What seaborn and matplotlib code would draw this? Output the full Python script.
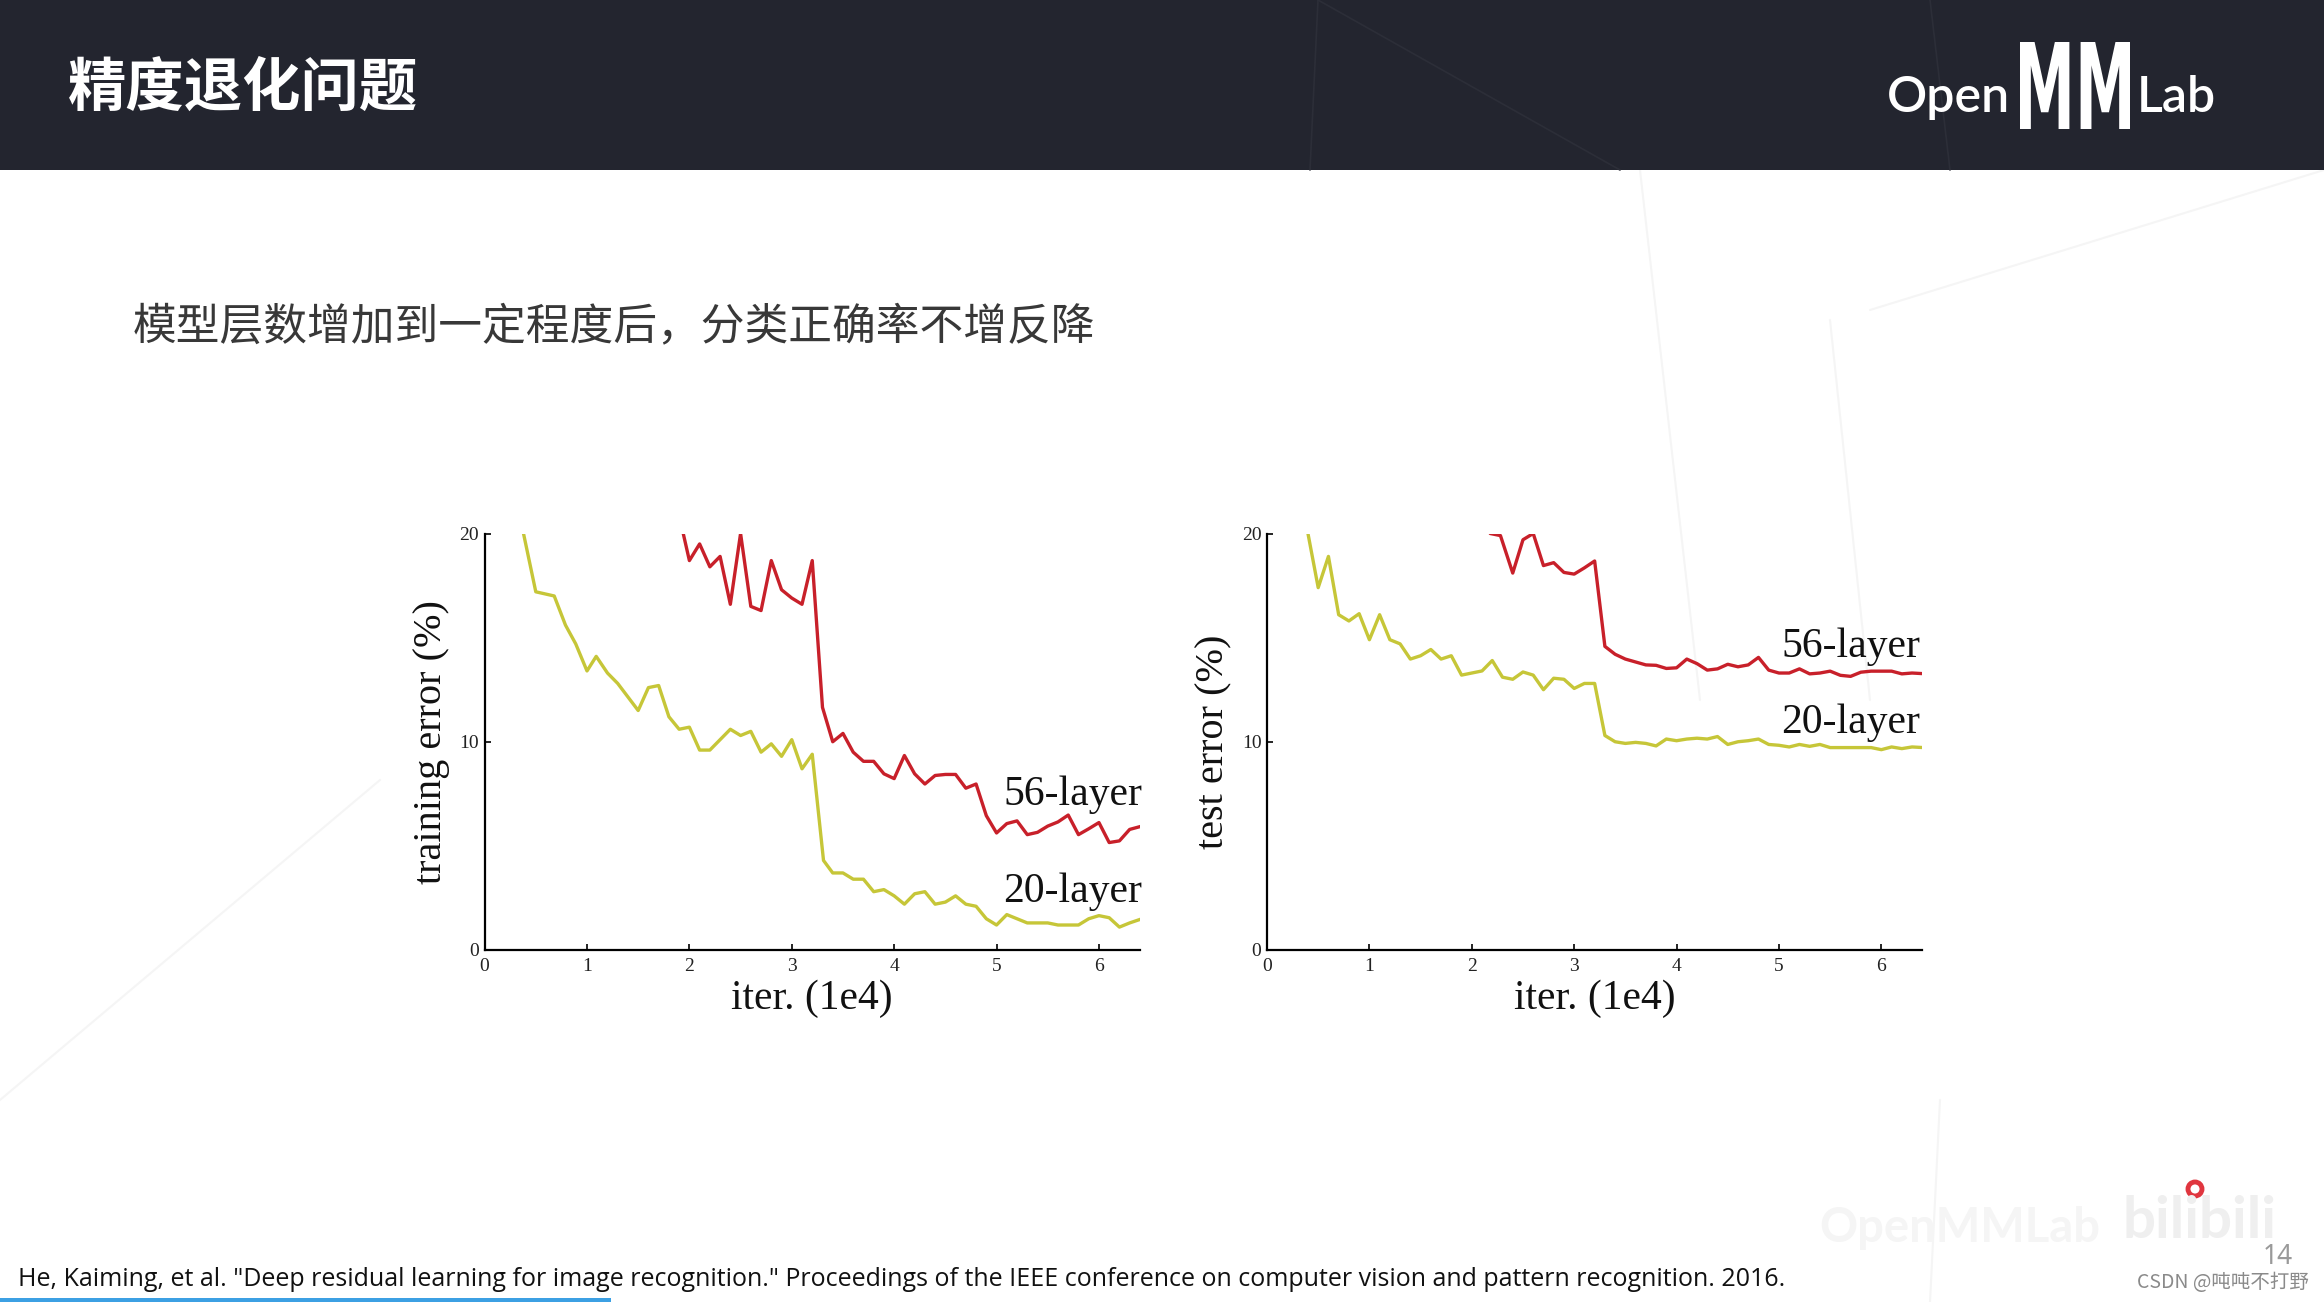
import matplotlib
matplotlib.use("Agg")
import matplotlib.pyplot as plt
import seaborn as sns
import pandas as pd
from matplotlib.patches import Rectangle, Ellipse, PathPatch
from matplotlib.lines import Line2D
from matplotlib.textpath import TextPath
from matplotlib.font_manager import FontProperties
from matplotlib.transforms import Affine2D, IdentityTransform

# ---------------- data ----------------
train20_x = [0.38, 0.5, 0.68, 0.79, 0.89, 1.0, 1.09, 1.2, 1.3, 1.5, 1.6, 1.7, 1.8, 1.9,
             2.0, 2.1, 2.2, 2.3, 2.4, 2.5, 2.6, 2.7, 2.8, 2.9, 3.0, 3.1, 3.2, 3.31,
             3.4, 3.5, 3.6, 3.7, 3.8, 3.9, 4.0, 4.1, 4.2, 4.3, 4.4, 4.5, 4.6, 4.7, 4.8,
             4.9, 5.0, 5.1, 5.2, 5.3, 5.4, 5.5, 5.6, 5.7, 5.8, 5.9, 6.0, 6.1, 6.2, 6.3, 6.42]
train20_y = [20, 17.2, 17.0, 15.6, 14.7, 13.4, 14.1, 13.3, 12.8, 11.5, 12.6, 12.7, 11.2, 10.6,
             10.7, 9.6, 9.6, 10.1, 10.6, 10.3, 10.5, 9.5, 9.9, 9.3, 10.1, 8.7, 9.4, 4.3,
             3.7, 3.7, 3.4, 3.4, 2.8, 2.9, 2.6, 2.2, 2.7, 2.8, 2.2, 2.3, 2.6, 2.2, 2.1,
             1.5, 1.2, 1.7, 1.5, 1.3, 1.3, 1.3, 1.2, 1.2, 1.2, 1.5, 1.65, 1.55, 1.1, 1.3, 1.5]

train56_x = [1.94, 2.0, 2.1, 2.2, 2.3, 2.4, 2.5, 2.6, 2.7, 2.8, 2.9, 3.0, 3.1, 3.2,
             3.3, 3.4, 3.5, 3.6, 3.7, 3.8, 3.9, 4.0, 4.1, 4.2,
             4.3, 4.4, 4.5, 4.6, 4.7, 4.8, 4.9, 5.0, 5.1, 5.2,
             5.3, 5.4, 5.5, 5.6, 5.7, 5.8, 5.9, 6.0, 6.1, 6.2, 6.3, 6.42]
train56_y = [20, 18.7, 19.5, 18.4, 18.9, 16.6, 20.0, 16.5, 16.3, 18.7, 17.3, 16.9, 16.6, 18.7,
             11.65, 10.0, 10.4, 9.5, 9.06, 9.06, 8.46, 8.23, 9.34, 8.46,
             7.97, 8.38, 8.43, 8.43, 7.77, 7.97, 6.45, 5.62, 6.07, 6.2,
             5.54, 5.65, 5.95, 6.15, 6.48, 5.54, 5.82, 6.12, 5.16, 5.24, 5.79, 5.95]

test20_x = [0.4, 0.5, 0.6, 0.7, 0.8, 0.9, 1.0, 1.1, 1.2, 1.3,
            1.4, 1.5, 1.6, 1.7, 1.8, 1.9, 2.0, 2.1, 2.2, 2.3,
            2.4, 2.5, 2.6, 2.7, 2.8, 2.9, 3.0, 3.1, 3.2, 3.3,
            3.4, 3.5, 3.6, 3.7, 3.8, 3.9, 4.0, 4.1, 4.2, 4.3,
            4.4, 4.5, 4.6, 4.7, 4.8, 4.9, 5.0, 5.1, 5.2, 5.3,
            5.4, 5.5, 5.6, 5.7, 5.8, 5.9, 6.0, 6.1, 6.2, 6.3, 6.41]
test20_y = [20, 17.4, 18.9, 16.1, 15.8, 16.15, 14.9, 16.1, 14.9, 14.7,
            13.97, 14.13, 14.43, 13.97, 14.13, 13.2, 13.3, 13.4, 13.9, 13.1,
            13.0, 13.35, 13.2, 12.5, 13.05, 13.0, 12.56, 12.8, 12.8, 10.3,
            10.0, 9.92, 9.97, 9.92, 9.8, 10.13, 10.05, 10.13, 10.17, 10.13,
            10.25, 9.87, 10.0, 10.05, 10.13, 9.87, 9.83, 9.75, 9.87, 9.78,
            9.87, 9.72, 9.72, 9.72, 9.72, 9.72, 9.62, 9.75, 9.67, 9.75, 9.72]

test56_x = [2.18, 2.28, 2.4, 2.5, 2.6, 2.7, 2.8, 2.9, 3.0, 3.1, 3.2,
            3.3, 3.4, 3.5, 3.6, 3.7, 3.8, 3.9, 4.0, 4.1, 4.2,
            4.3, 4.4, 4.5, 4.6, 4.7, 4.8, 4.9, 5.0, 5.1, 5.2,
            5.3, 5.4, 5.5, 5.6, 5.7, 5.8, 5.9, 6.0, 6.1, 6.2, 6.3, 6.41]
test56_y = [20, 19.9, 18.1, 19.7, 20.0, 18.46, 18.6, 18.13, 18.05, 18.35, 18.68,
            14.58, 14.2, 13.97, 13.83, 13.69, 13.67, 13.52, 13.55, 13.97, 13.75,
            13.44, 13.5, 13.72, 13.6, 13.69, 14.05, 13.44, 13.3, 13.3, 13.5,
            13.26, 13.3, 13.39, 13.19, 13.14, 13.34, 13.39, 13.39, 13.39, 13.26, 13.3, 13.27]

series_names = ["56-layer", "20-layer"]
x_ticks = [0, 1, 2, 3, 4, 5, 6]
y_ticks = [0, 10, 20]
title_text = "精度退化问题"
subtitle_text = "模型层数增加到一定程度后，分类正确率不增反降"
cite_text = ('He, Kaiming, et al. "Deep residual learning for image recognition." '
             'Proceedings of the IEEE conference on computer vision and pattern recognition. 2016.')

RED = "#c8202a"
YEL = "#c6c638"

# ---------------- figure ----------------
sns.set_theme(style="white")
plt.rcParams['font.family'] = ['Liberation Serif', 'DejaVu Sans']

W, H = 2324, 1302
fig = plt.figure(figsize=(W / 100, H / 100), dpi=100)
fig.patch.set_facecolor("white")

def fx(px):
    return px / W

def fy(py):
    return 1 - py / H

# very faint background geometry
for (x0, y0, x1, y1) in [(1640, 170, 1700, 700), (1870, 310, 2324, 170),
                         (1830, 320, 1870, 700), (0, 1100, 380, 780), (1930, 1302, 1940, 1100)]:
    fig.add_artist(Line2D([fx(x0), fx(x1)], [fy(y0), fy(y1)], transform=fig.transFigure,
                          color="#f5f5f5", lw=1.5, zorder=0))

# header band
fig.add_artist(Rectangle((0, fy(170)), 1, 170 / H, transform=fig.transFigure,
                         facecolor="#23252f", edgecolor="none", zorder=0))
for (x0, y0, x1, y1) in [(1310, 170, 1318, 0), (1318, 0, 1620, 170), (1930, 0, 1950, 170)]:
    fig.add_artist(Line2D([fx(x0), fx(x1)], [fy(y0), fy(y1)], transform=fig.transFigure,
                          color="#2c2e38", lw=1.2, zorder=0.5))

fig.text(fx(68), fy(89), title_text, color="white", fontsize=42, fontweight="bold",
         va="center", ha="left", family=["Noto Sans CJK SC", "DejaVu Sans"])

# logo
fig.text(fx(1887), fy(98), "Open", color="white", fontsize=36, fontweight="semibold",
         va="center", ha="left", family=["Lato", "DejaVu Sans"])
fig.text(fx(2137), fy(98), "Lab", color="white", fontsize=36, fontweight="semibold",
         va="center", ha="left", family=["Lato", "DejaVu Sans"])
# tall narrow "MM" fitted into its box (pixel box x 2020-2130, y 42-129 from top)
mm_path = TextPath((0, 0), "MM", size=100, prop=FontProperties(family="DejaVu Sans", weight="bold"))
ext = mm_path.get_extents()
bx0, bx1, by_top, by_bot = 2020, 2130, 42, 129
sx = (bx1 - bx0) / ext.width
sy = (by_bot - by_top) / ext.height
mm_tr = (Affine2D().translate(-ext.x0, -ext.y0).scale(sx, sy)
         .translate(bx0, H - by_bot))
fig.add_artist(PathPatch(mm_tr.transform_path(mm_path), transform=IdentityTransform(),
                         facecolor="white", edgecolor="none", zorder=2))

# subtitle
fig.text(fx(133), fy(326), subtitle_text, color="#383838", fontsize=31.5,
         va="center", ha="left", family=["Noto Sans CJK SC", "DejaVu Sans"])

# ---------------- charts ----------------
def make_df(x56, y56, x20, y20):
    return pd.concat([
        pd.DataFrame({"iter": x56, "err": y56, "model": series_names[0]}),
        pd.DataFrame({"iter": x20, "err": y20, "model": series_names[1]}),
    ], ignore_index=True)

palette = {series_names[0]: RED, series_names[1]: YEL}

def draw(ax, df, ylabel, lab56, lab20):
    sns.lineplot(data=df, x="iter", y="err", hue="model", palette=palette, ax=ax,
                 linewidth=2.4, legend=False, estimator=None, sort=False)
    ax.set_xlim(0, 6.4)
    ax.set_ylim(0, 20)
    ax.set_xticks(x_ticks)
    ax.set_yticks(y_ticks)
    ax.set_xticklabels([str(v) for v in x_ticks])
    ax.set_yticklabels([str(v) for v in y_ticks])
    ax.tick_params(axis="both", direction="in", length=4, width=1.2, color="black",
                   labelsize=14, labelcolor="#222222")
    ax.tick_params(axis="x", pad=6, bottom=True)
    ax.tick_params(axis="y", pad=4, left=True)
    for s in ["top", "right"]:
        ax.spines[s].set_visible(False)
    for s in ["left", "bottom"]:
        ax.spines[s].set_color("black")
        ax.spines[s].set_linewidth(1.6)
    ax.grid(False)
    ax.set_facecolor("none")
    ax.set_xlabel("iter. (1e4)", fontsize=30, color="#111111")
    ax.xaxis.set_label_coords(0.5, -0.071)
    ax.set_ylabel(ylabel, fontsize=29, color="#111111")
    ax.yaxis.set_label_coords(-0.053, 0.5)
    ax.text(lab56[0], lab56[1], series_names[0], ha="right", va="center", fontsize=30, color="#111111")
    ax.text(lab20[0], lab20[1], series_names[1], ha="right", va="center", fontsize=30, color="#111111")

ax_w = fx(655.3)
ax_h = 416.5 / H
ax1 = fig.add_axes([fx(484.6), fy(950), ax_w, ax_h])
ax2 = fig.add_axes([fx(1267), fy(950), ax_w, ax_h])

draw(ax1, make_df(train56_x, train56_y, train20_x, train20_y), "training error (%)",
     (6.42, 7.44), (6.42, 2.81))
draw(ax2, make_df(test56_x, test56_y, test20_x, test20_y), "test error (%)",
     (6.38, 14.55), (6.38, 10.9))

# ---------------- footer ----------------
fig.text(fx(18), fy(1279), cite_text, fontsize=18, color="#111111", va="center", ha="left",
         family=["Open Sans", "DejaVu Sans"])
fig.add_artist(Rectangle((0, 0), fx(611), 4 / H, transform=fig.transFigure,
                         facecolor="#3ca0e3", edgecolor="none"))

# watermark & page info
fig.text(fx(1960), fy(1228), "OpenMMLab", fontsize=34, color="#f5f5f5", va="center", ha="center",
         family=["Lato", "DejaVu Sans"], fontweight="bold")
fig.text(fx(2200), fy(1222), "bilibili", fontsize=42, color="#efefef", va="center", ha="center",
         family=["Lato", "DejaVu Sans"], fontweight="bold")
fig.add_artist(Ellipse((fx(2195), fy(1189)), 14 / W, 14 / H, transform=fig.transFigure,
                       facecolor="none", edgecolor="#e0363f", lw=3.5))
fig.text(fx(2278), fy(1257), "14", fontsize=19, color="#9a9a9a", va="center", ha="center",
         family=["Noto Sans", "DejaVu Sans"])
fig.text(fx(2309), fy(1282), "CSDN @吨吨不打野", fontsize=14, color="#8a8a8a", va="center", ha="right",
         family=["Noto Sans CJK SC", "DejaVu Sans"])

fig.savefig("out.png", dpi=100, facecolor=fig.get_facecolor())
